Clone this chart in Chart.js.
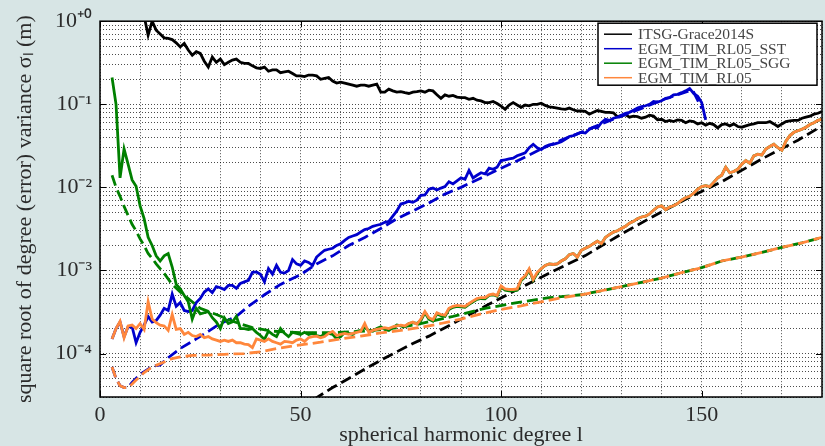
<!DOCTYPE html>
<html lang="en">
<head>
  <meta charset="UTF-8" />
  <title>Degree error variances</title>
  <script src="https://cdn.jsdelivr.net/npm/chart.js"></script>
  <style>
    html, body {
      margin: 0;
      padding: 0;
      overflow: hidden;
      background: #d7e5e5;
    }
    .wrap {
      position: relative;
      width: 827px;
      height: 446px;
    }
  </style>
</head>
<body>
  <div class="wrap"><canvas id="chart"></canvas></div>
  <script>
    /* =========================
         DATA
       ========================= */
    // solid lines: one value per degree, starting at the given degree
    const itsgStart = 10;
    const itsg = [
      1.4, 1.15, 0.68, 1.0, 0.78, 0.70, 0.63, 0.62, 0.60, 0.55,
      0.49, 0.54, 0.45, 0.39, 0.43, 0.41, 0.33, 0.28, 0.37, 0.32,
      0.35, 0.30, 0.32, 0.34, 0.35, 0.32, 0.31, 0.31, 0.29, 0.275,
      0.27, 0.28, 0.25, 0.26, 0.26, 0.24, 0.245, 0.25, 0.235, 0.22,
      0.22, 0.215, 0.225, 0.225, 0.22, 0.20, 0.205, 0.21, 0.19, 0.18,
      0.185, 0.18, 0.175, 0.17, 0.165, 0.17, 0.17, 0.165, 0.17, 0.175,
      0.14, 0.14, 0.152, 0.145, 0.14, 0.142, 0.138, 0.135, 0.14, 0.142,
      0.145, 0.14, 0.148, 0.145, 0.13, 0.118, 0.13, 0.125, 0.128, 0.122,
      0.12, 0.12, 0.115, 0.118, 0.112, 0.11, 0.105, 0.105, 0.108, 0.102,
      0.095, 0.087, 0.098, 0.105, 0.098, 0.092, 0.098, 0.096, 0.1, 0.1,
      0.103, 0.097, 0.093, 0.092, 0.09, 0.088, 0.087, 0.09, 0.086, 0.083,
      0.083, 0.082, 0.076, 0.08, 0.084, 0.082, 0.08, 0.08, 0.079, 0.071,
      0.073, 0.075, 0.07, 0.072, 0.071, 0.068, 0.07, 0.074, 0.072, 0.065,
      0.066, 0.062, 0.064, 0.062, 0.065, 0.064, 0.06, 0.063, 0.062, 0.058,
      0.06, 0.056, 0.059, 0.057, 0.052, 0.057, 0.058, 0.055, 0.058, 0.054,
      0.053, 0.055, 0.057, 0.058, 0.06, 0.06, 0.06, 0.062, 0.058, 0.054,
      0.058, 0.062, 0.063, 0.064, 0.064, 0.068, 0.07, 0.072, 0.076, 0.078,
      0.082
    ];

    const sstStart = 3;
    const sst = [
      1.5e-4, 2.0e-4, 2.4e-4, 1.6e-4, 2.1e-4, 2.1e-4, 1.35e-4, 1.8e-4, 2.2e-4, 2.8e-4,
      2.4e-4, 2.5e-4, 2.9e-4, 3.5e-4, 3.3e-4, 5.2e-4, 3.7e-4, 4.1e-4, 3.3e-4, 3.2e-4,
      3.3e-4, 4.1e-4, 4.6e-4, 5.5e-4, 6.0e-4, 5.4e-4, 6.4e-4, 6.2e-4, 5.9e-4, 6.6e-4,
      6.6e-4, 6.1e-4, 7.0e-4, 7.3e-4, 7.6e-4, 9.5e-4, 9.6e-4, 9.0e-4, 7.3e-4, 1.05e-3,
      9.0e-4, 1.15e-3, 9.5e-4, 9.3e-4, 1.0e-3, 1.35e-3, 1.2e-3, 1.15e-3, 1.3e-3, 1.25e-3,
      1.15e-3, 1.45e-3, 1.6e-3, 1.75e-3, 1.8e-3, 1.85e-3, 2.0e-3, 2.1e-3, 2.3e-3, 2.5e-3,
      2.6e-3, 2.7e-3, 2.9e-3, 3.1e-3, 3.2e-3, 3.4e-3, 3.5e-3, 3.6e-3, 3.8e-3, 3.9e-3,
      4.5e-3, 5.2e-3, 6.3e-3, 6.5e-3, 6.8e-3, 6.6e-3, 7.0e-3, 8.0e-3, 8.1e-3, 9.5e-3,
      9.8e-3, 9.3e-3, 9.8e-3, 1.02e-2, 1.17e-2, 1.1e-2, 1.2e-2, 1.3e-2, 1.25e-2, 1.6e-2,
      1.3e-2, 1.4e-2, 1.5e-2, 1.45e-2, 1.7e-2, 1.65e-2, 1.75e-2, 2.1e-2, 2.15e-2, 2.2e-2,
      2.25e-2, 2.4e-2, 2.5e-2, 2.6e-2, 3.0e-2, 3.3e-2, 3.0e-2, 2.85e-2, 3.1e-2, 3.25e-2,
      3.3e-2, 3.4e-2, 3.55e-2, 3.8e-2, 4.1e-2, 4.2e-2, 4.4e-2, 4.6e-2, 4.5e-2, 5.0e-2,
      5.3e-2, 5.2e-2, 6.0e-2, 6.6e-2, 6.4e-2, 6.8e-2, 7.0e-2, 7.4e-2, 7.8e-2, 8.0e-2,
      8.5e-2, 9.0e-2, 9.4e-2, 9.6e-2, 1.0e-1, 1.08e-1, 1.06e-1, 1.1e-1, 1.18e-1, 1.2e-1,
      1.3e-1, 1.32e-1, 1.38e-1, 1.45e-1, 1.55e-1, 1.35e-1, 1.25e-1, 1.05e-1, 6.5e-2
    ];

    const sggStart = 3;
    const sgg = [
      0.21, 0.10, 0.013, 0.029, 0.019, 0.0123, 0.0103, 0.0060, 0.0042, 0.0025,
      0.0020, 0.0015, 0.0013, 0.0015, 0.0016, 0.0011, 6.8e-4, 6.0e-4, 5.0e-4, 4.2e-4,
      2.6e-4, 3.5e-4, 3.0e-4, 3.1e-4, 3.2e-4, 2.7e-4, 2.4e-4, 2.0e-4, 2.7e-4, 2.3e-4,
      2.4e-4, 2.8e-4, 2.0e-4, 2.0e-4, 1.95e-4, 2.0e-4, 1.8e-4, 1.65e-4, 1.48e-4, 1.86e-4,
      1.7e-4, 1.6e-4, 2.0e-4, 1.75e-4, 1.6e-4, 1.8e-4, 1.75e-4, 1.7e-4, 1.8e-4, 1.7e-4,
      1.75e-4, 1.65e-4, 1.6e-4, 1.7e-4, 1.75e-4, 1.7e-4, 1.5e-4, 1.6e-4, 1.8e-4, 1.75e-4,
      1.7e-4, 1.85e-4, 1.9e-4, 2.05e-4, 1.9e-4, 1.85e-4, 2.0e-4, 2.1e-4, 1.95e-4, 1.9e-4,
      2.05e-4, 2.2e-4, 2.15e-4, 2.1e-4, 2.3e-4, 2.35e-4, 2.3e-4, 2.5e-4, 3.1e-4, 2.6e-4,
      2.45e-4, 3.0e-4, 2.85e-4, 2.8e-4, 3.4e-4, 3.6e-4, 3.7e-4, 3.65e-4, 3.6e-4, 3.9e-4,
      4.2e-4, 4.5e-4, 4.6e-4, 4.55e-4, 5.0e-4, 5.1e-4, 4.9e-4, 6.3e-4, 5.8e-4, 5.7e-4,
      5.7e-4, 5.8e-4, 7.6e-4, 8.4e-4, 1.02e-3, 7.6e-4, 9.2e-4, 1.05e-3, 1.15e-3, 1.2e-3,
      1.18e-3, 1.2e-3, 1.3e-3, 1.38e-3, 1.55e-3, 1.6e-3, 1.45e-3, 1.75e-3, 1.85e-3, 1.95e-3,
      2.1e-3, 2.25e-3, 2.1e-3, 2.5e-3, 2.7e-3, 2.9e-3, 3.0e-3, 3.2e-3, 3.4e-3, 3.7e-3,
      3.9e-3, 4.2e-3, 4.4e-3, 4.5e-3, 4.8e-3, 5.3e-3, 5.8e-3, 6.0e-3, 5.4e-3, 5.8e-3,
      6.0e-3, 6.4e-3, 7.0e-3, 7.5e-3, 7.8e-3, 8.5e-3, 9.5e-3, 1.02e-2, 1.05e-2, 1.02e-2,
      1.15e-2, 1.3e-2, 1.4e-2, 1.75e-2, 1.5e-2, 1.55e-2, 1.65e-2, 1.9e-2, 2.1e-2, 1.95e-2,
      2.4e-2, 2.5e-2, 2.45e-2, 2.9e-2, 3.1e-2, 3.3e-2, 3.0e-2, 2.8e-2, 3.6e-2, 4.2e-2,
      4.6e-2, 4.8e-2, 5.0e-2, 5.3e-2, 5.7e-2, 6.0e-2, 6.4e-2, 6.6e-2
    ];

    const rl05Start = 3;
    const rl05 = [
      1.5e-4, 2.0e-4, 2.45e-4, 1.55e-4, 2.15e-4, 2.2e-4, 2.0e-4, 2.3e-4, 1.95e-4, 4.2e-4,
      2.6e-4, 2.35e-4, 2.2e-4, 2.15e-4, 1.9e-4, 2.95e-4, 1.95e-4, 2.0e-4, 1.7e-4, 1.8e-4,
      1.65e-4, 1.6e-4, 1.7e-4, 1.55e-4, 1.6e-4, 1.5e-4, 1.45e-4, 1.4e-4, 1.45e-4, 1.4e-4,
      1.45e-4, 1.35e-4, 1.35e-4, 1.3e-4, 1.28e-4, 1.18e-4, 1.5e-4, 1.45e-4, 1.4e-4, 1.5e-4,
      1.4e-4, 1.35e-4, 1.3e-4, 1.4e-4, 1.38e-4, 1.35e-4, 1.45e-4, 1.5e-4, 1.4e-4, 1.55e-4,
      1.6e-4, 1.62e-4, 1.55e-4, 1.6e-4, 1.75e-4, 1.85e-4, 1.65e-4, 1.7e-4, 1.75e-4, 1.7e-4,
      1.75e-4, 1.8e-4, 1.85e-4, 2.3e-4, 1.8e-4, 1.9e-4, 1.95e-4, 2.0e-4, 2.05e-4, 2.0e-4,
      2.1e-4, 2.15e-4, 2.2e-4, 2.15e-4, 2.3e-4, 2.4e-4, 2.25e-4, 2.6e-4, 3.2e-4, 2.7e-4,
      2.55e-4, 3.1e-4, 2.95e-4, 2.9e-4, 3.5e-4, 3.7e-4, 3.8e-4, 3.75e-4, 3.7e-4, 4.0e-4,
      4.3e-4, 4.6e-4, 4.7e-4, 4.7e-4, 5.1e-4, 5.2e-4, 5.0e-4, 6.5e-4, 6.0e-4, 5.9e-4,
      5.9e-4, 6.0e-4, 7.8e-4, 8.6e-4, 1.05e-3, 7.8e-4, 9.5e-4, 1.05e-3, 1.15e-3, 1.2e-3,
      1.18e-3, 1.2e-3, 1.3e-3, 1.38e-3, 1.55e-3, 1.6e-3, 1.45e-3, 1.75e-3, 1.85e-3, 1.95e-3,
      2.1e-3, 2.25e-3, 2.1e-3, 2.5e-3, 2.7e-3, 2.9e-3, 3.0e-3, 3.2e-3, 3.4e-3, 3.7e-3,
      3.9e-3, 4.2e-3, 4.4e-3, 4.5e-3, 4.8e-3, 5.3e-3, 5.8e-3, 6.0e-3, 5.4e-3, 5.8e-3,
      6.0e-3, 6.4e-3, 7.0e-3, 7.5e-3, 7.8e-3, 8.5e-3, 9.5e-3, 1.02e-2, 1.05e-2, 1.02e-2,
      1.15e-2, 1.3e-2, 1.4e-2, 1.75e-2, 1.5e-2, 1.55e-2, 1.65e-2, 1.9e-2, 2.1e-2, 1.95e-2,
      2.4e-2, 2.5e-2, 2.45e-2, 2.9e-2, 3.1e-2, 3.3e-2, 3.0e-2, 2.8e-2, 3.6e-2, 4.2e-2,
      4.6e-2, 4.8e-2, 5.0e-2, 5.3e-2, 5.7e-2, 6.0e-2, 6.4e-2, 6.6e-2
    ];

    // dashed lines: smooth curves, sampled at these degrees
    const itsgFormalDeg = [50, 54, 58, 62, 66, 70, 74, 78, 82, 88, 96, 104, 112, 121, 130, 138, 146, 155, 165, 174, 180];
    const itsgFormal = [2.2e-5, 2.95e-5, 3.9e-5, 5.0e-5, 6.5e-5, 8.3e-5, 1.05e-4, 1.32e-4, 1.62e-4, 2.3e-4,
      3.7e-4, 5.9e-4, 9.3e-4, 1.51e-3, 2.75e-3, 4.5e-3, 7.2e-3, 1.17e-2, 2.2e-2, 3.7e-2, 5.5e-2];

    const sstFormalDeg = [3, 4, 5, 6, 7, 8, 10, 12, 13, 15, 17, 20, 24, 27, 30, 34, 37, 41, 45, 50, 54, 58,
      62, 66, 70, 74, 78, 82, 86, 90, 95, 100, 105, 110, 115, 120, 125, 130, 135, 140, 145, 147, 148, 150];
    const sstFormal = [6.9e-5, 5.0e-5, 4.1e-5, 3.9e-5, 3.9e-5, 4.5e-5, 5.6e-5, 6.5e-5, 7.0e-5, 7.3e-5, 8.9e-5,
      1.15e-4, 1.5e-4, 1.85e-4, 2.3e-4, 2.8e-4, 3.7e-4, 5.1e-4, 6.8e-4, 8.9e-4, 1.2e-3, 1.5e-3,
      2.0e-3, 2.5e-3, 3.2e-3, 4.2e-3, 5.2e-3, 6.5e-3, 8.3e-3, 1.0e-2, 1.3e-2, 1.7e-2, 2.2e-2, 2.9e-2,
      3.7e-2, 4.6e-2, 5.8e-2, 7.2e-2, 8.9e-2, 1.12e-1, 1.35e-1, 1.45e-1, 1.4e-1, 9.0e-2];

    const sggFormalDeg = [3, 4, 5, 6, 7, 8, 9, 10, 11, 12, 13, 14, 16, 18, 20, 22, 25, 29, 33, 38, 43, 50, 58,
      66, 74, 79, 88, 96, 104, 112, 120, 125, 130, 135, 140, 145, 150, 155, 160, 165, 170, 175, 180];
    const sggFormal = [1.4e-2, 1.0e-2, 7.8e-3, 5.9e-3, 4.6e-3, 3.6e-3, 3.0e-3, 2.4e-3, 2.0e-3, 1.6e-3, 1.4e-3,
      1.2e-3, 9.2e-4, 6.8e-4, 5.5e-4, 4.6e-4, 3.5e-4, 2.95e-4, 2.45e-4, 2.05e-4, 1.86e-4, 1.78e-4, 1.78e-4,
      1.86e-4, 2.04e-4, 2.24e-4, 2.8e-4, 3.5e-4, 4.1e-4, 4.7e-4, 5.1e-4, 5.7e-4, 6.4e-4, 7.2e-4, 8.1e-4,
      9.4e-4, 1.08e-3, 1.3e-3, 1.45e-3, 1.65e-3, 1.9e-3, 2.15e-3, 2.5e-3];

    const rl05FormalDeg = [3, 4, 5, 6, 7, 8, 9, 11, 13, 14, 16, 18, 20, 23, 27, 31, 36, 40, 45, 50, 55, 60, 65,
      70, 75, 80, 85, 90, 95, 100, 105, 110, 115, 120, 125, 130, 135, 140, 145, 150, 155, 160, 165, 170, 175, 180];
    const rl05Formal = [6.9e-5, 5.0e-5, 4.1e-5, 3.9e-5, 3.9e-5, 4.3e-5, 4.8e-5, 5.9e-5, 6.9e-5, 7.2e-5, 7.9e-5,
      8.7e-5, 9.1e-5, 9.5e-5, 9.6e-5, 9.8e-5, 1.0e-4, 1.05e-4, 1.17e-4, 1.27e-4, 1.37e-4, 1.5e-4, 1.62e-4,
      1.77e-4, 1.9e-4, 2.07e-4, 2.3e-4, 2.6e-4, 3.0e-4, 3.4e-4, 3.75e-4, 4.2e-4, 4.7e-4, 5.1e-4, 5.7e-4,
      6.4e-4, 7.2e-4, 8.1e-4, 9.4e-4, 1.08e-3, 1.3e-3, 1.45e-3, 1.65e-3, 1.9e-3, 2.15e-3, 2.5e-3];

    // legend + axis labelling
    const seriesNames = ['ITSG-Grace2014S', 'EGM_TIM_RL05_SST', 'EGM_TIM_RL05_SGG', 'EGM_TIM_RL05'];
    const seriesColors = ['#000000', '#0000cc', '#008000', '#ff873c'];
    const xTickLabels = [0, 50, 100, 150];
    const yTickValues = [1, 1e-1, 1e-2, 1e-3, 1e-4];
    const yTickLabels = ['10⁺⁰', '10⁻¹', '10⁻²', '10⁻³', '10⁻⁴'];

    /* =========================
         HELPERS
       ========================= */
    const byDegree = (start, vals) => vals.map((v, i) => ({ x: start + i, y: v }));
    const pairs = (deg, vals) => deg.map((d, i) => ({ x: d, y: vals[i] }));

    function series(label, data, color, dashed, order) {
      return {
        label: label,
        data: data,
        borderColor: color,
        backgroundColor: color,
        borderWidth: 2.8,
        borderDash: dashed ? [11, 5] : [],
        pointRadius: 0,
        tension: 0,
        fill: false,
        clip: 0,
        order: order
      };
    }

    const FONT = 'Liberation Serif';
    const TEXT = '#2b2b2b';

    // white plot area, frame, inward tick marks and the boxed legend
    const plotDecor = {
      id: 'plotDecor',
      beforeDraw(chart) {
        const { ctx, chartArea: a } = chart;
        ctx.save();
        ctx.fillStyle = '#ffffff';
        ctx.fillRect(a.left, a.top, a.right - a.left, a.bottom - a.top);
        ctx.restore();
      },
      afterDraw(chart) {
        const { ctx, chartArea: a, scales } = chart;
        ctx.save();
        ctx.strokeStyle = '#000';
        ctx.lineWidth = 1.5;
        ctx.strokeRect(a.left, a.top, a.right - a.left, a.bottom - a.top);

        // inward tick marks at the labelled positions
        ctx.lineWidth = 1;
        ctx.beginPath();
        xTickLabels.forEach(v => {
          const px = Math.round(scales.x.getPixelForValue(v)) + 0.5;
          ctx.moveTo(px, a.bottom); ctx.lineTo(px, a.bottom - 6);
          ctx.moveTo(px, a.top); ctx.lineTo(px, a.top + 6);
        });
        yTickValues.forEach(v => {
          const py = Math.round(scales.y.getPixelForValue(v)) + 0.5;
          ctx.moveTo(a.left, py); ctx.lineTo(a.left + 6, py);
          ctx.moveTo(a.right, py); ctx.lineTo(a.right - 6, py);
        });
        ctx.stroke();

        // legend box
        const bx = a.right - 224, by = a.top + 2, bw = 219, bh = 62;
        ctx.fillStyle = '#ffffff';
        ctx.fillRect(bx, by, bw, bh);
        ctx.strokeStyle = '#000';
        ctx.lineWidth = 1.5;
        ctx.strokeRect(bx, by, bw, bh);
        ctx.font = '15.5px "' + FONT + '"';
        ctx.textBaseline = 'middle';
        ctx.textAlign = 'left';
        seriesNames.forEach((name, i) => {
          const ry = by + 11 + i * 14.5;
          ctx.strokeStyle = seriesColors[i];
          ctx.lineWidth = 1.5;
          ctx.beginPath();
          ctx.moveTo(bx + 6, ry);
          ctx.lineTo(bx + 34, ry);
          ctx.stroke();
          ctx.fillStyle = '#444';
          ctx.fillText(name, bx + 40, ry + 1);
        });
        ctx.restore();
      }
    };

    /* =========================
         CHART
       ========================= */
    const ctx = document.getElementById('chart').getContext('2d');
    new Chart(ctx, {
      type: 'line',
      data: {
        datasets: [
          series(seriesNames[3], byDegree(rl05Start, rl05), seriesColors[3], false, 1),
          series(seriesNames[3] + ' formal', pairs(rl05FormalDeg, rl05Formal), seriesColors[3], true, 2),
          series(seriesNames[2], byDegree(sggStart, sgg), seriesColors[2], false, 3),
          series(seriesNames[2] + ' formal', pairs(sggFormalDeg, sggFormal), seriesColors[2], true, 4),
          series(seriesNames[1], byDegree(sstStart, sst), seriesColors[1], false, 5),
          series(seriesNames[1] + ' formal', pairs(sstFormalDeg, sstFormal), seriesColors[1], true, 6),
          series(seriesNames[0], byDegree(itsgStart, itsg), seriesColors[0], false, 7),
          series(seriesNames[0] + ' formal', pairs(itsgFormalDeg, itsgFormal), seriesColors[0], true, 8)
        ]
      },
      options: {
        responsive: true,
        maintainAspectRatio: false,
        animation: false,
        layout: { autoPadding: false, padding: { top: 16, right: 1, left: 0, bottom: 0 } },
        plugins: {
          legend: { display: false },
          tooltip: { enabled: false }
        },
        scales: {
          x: {
            type: 'linear',
            min: 0,
            max: 180,
            offset: false,
            afterFit: axis => { axis.height = 49; },
            ticks: {
              stepSize: 10,
              autoSkip: false,
              maxRotation: 0,
              padding: 5,
              color: TEXT,
              font: { family: FONT, size: 22 },
              callback: v => (xTickLabels.includes(v) ? String(v) : '')
            },
            grid: { color: 'rgba(0,0,0,0.7)', lineWidth: 1, drawTicks: false },
            border: { display: false, dash: [1, 2] },
            title: {
              display: true,
              text: 'spherical harmonic degree l',
              color: TEXT,
              font: { family: FONT, size: 22, lineHeight: 1 },
              padding: { top: 0, bottom: 0 }
            }
          },
          y: {
            type: 'logarithmic',
            min: 3e-5,
            max: 1,
            afterFit: axis => { axis.width = 100; },
            afterBuildTicks: axis => {
              const ticks = [];
              for (let e = -5; e <= 0; e++) {
                for (let m = 1; m <= 9; m++) {
                  const v = m * Math.pow(10, e);
                  if (v >= 3e-5 && v <= 1.0000001) ticks.push({ value: v });
                }
              }
              axis.ticks = ticks;
            },
            ticks: {
              autoSkip: false,
              padding: 8,
              color: TEXT,
              font: { family: FONT, size: 22 },
              callback: v => {
                const i = yTickValues.findIndex(t => Math.abs(t - v) / t < 1e-6);
                return i >= 0 ? yTickLabels[i] : '';
              }
            },
            grid: { color: 'rgba(0,0,0,0.7)', lineWidth: 1, drawTicks: false },
            border: { display: false, dash: [1, 2] },
            title: {
              display: true,
              text: 'square root of degree (error) variance σₗ (m)',
              color: TEXT,
              font: { family: FONT, size: 22, lineHeight: 1 },
              padding: { top: 14, bottom: 0 }
            }
          }
        }
      },
      plugins: [plotDecor]
    });
  </script>
</body>
</html>
